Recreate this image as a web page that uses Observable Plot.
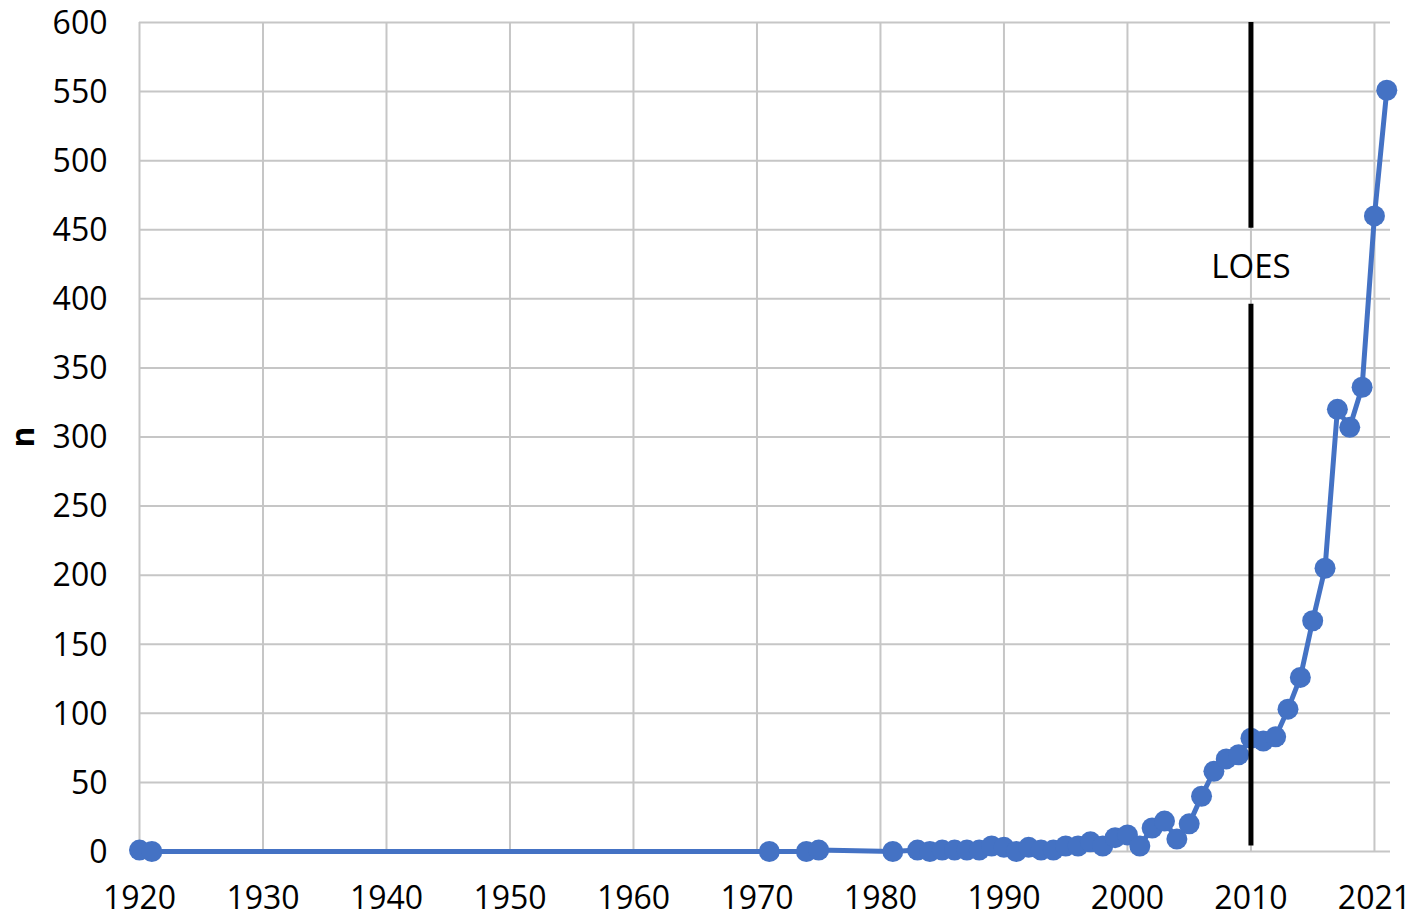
<!DOCTYPE html>
<html>
<head>
<meta charset="utf-8">
<script src="https://cdn.jsdelivr.net/npm/d3@7"></script>
<script src="https://cdn.jsdelivr.net/npm/@observablehq/plot@0.6"></script>
<style>
  html, body { margin: 0; padding: 0; background: #fff; }
  #chart { width: 1418px; height: 919px; }
</style>
</head>
<body>
<div id="chart"></div>
<script>
const years = [1920, 1921, 1971, 1974, 1975, 1981, 1983, 1984, 1985, 1986, 1987, 1988, 1989, 1990,
  1991, 1992, 1993, 1994, 1995, 1996, 1997, 1998, 1999, 2000, 2001, 2002, 2003, 2004, 2005,
  2006, 2007, 2008, 2009, 2010, 2011, 2012, 2013, 2014, 2015, 2016, 2017, 2018, 2019, 2020, 2021];
const counts = [1, 0, 0, 0, 1, 0, 1, 0, 1, 1, 1, 1, 4, 3,
  0, 3, 1, 1, 4, 4, 7, 4, 10, 12, 4, 17, 22, 9, 20,
  40, 58, 67, 70, 82, 80, 83, 103, 126, 167, 205, 320, 307, 336, 460, 551];

const xTicks = [1920, 1930, 1940, 1950, 1960, 1970, 1980, 1990, 2000, 2010, 2020];
const xTickLabels = ["1920", "1930", "1940", "1950", "1960", "1970", "1980", "1990", "2000", "2010", "2021"];
const yTicks = [0, 50, 100, 150, 200, 250, 300, 350, 400, 450, 500, 550, 600];

const markerYear = 2010;
const markerLabel = "LOES";
const markerSegStart = [4, 451];
const markerSegEnd = [396, 600];
const markerLabelValue = 423;
const yLabel = "n";

const data = years.map((y, i) => ({year: y, n: counts[i]}));
const segments = markerSegStart.map((s, i) => ({y1: s, y2: markerSegEnd[i]}));
const labelMap = new Map(xTicks.map((t, i) => [t, xTickLabels[i]]));

const grid = "#c6c6c6";
const blue = "#4472C4";
const font = "'Open Sans', sans-serif";
const fs = 32;

const chart = Plot.plot({
  width: 1418,
  height: 919,
  marginLeft: 139,
  marginRight: 28,
  marginTop: 22,
  marginBottom: 68,
  style: {fontFamily: font, fontSize: fs + "px", color: "#000", background: "#fff"},
  x: {domain: [1920, 2021.3]},
  y: {domain: [0, 600]},
  marks: [
    Plot.gridX(xTicks, {stroke: grid, strokeOpacity: 1, strokeWidth: 2}),
    Plot.gridY(yTicks, {stroke: grid, strokeOpacity: 1, strokeWidth: 2}),
    Plot.line(data, {x: "year", y: "n", stroke: blue, strokeWidth: 5}),
    Plot.dot(data, {x: "year", y: "n", r: 10.5, fill: blue, stroke: null}),
    Plot.ruleX(segments, {x: () => markerYear, y1: "y1", y2: "y2", stroke: "#000", strokeWidth: 5}),
    Plot.text([markerLabel], {x: markerYear, y: markerLabelValue, text: d => d, fontSize: 33, fill: "#000", fontFamily: font}),
    Plot.axisX(xTicks, {tickSize: 0, tickPadding: 35, tickFormat: d => labelMap.get(d), fontSize: fs, fill: "#000", label: null}),
    Plot.axisY(yTicks, {tickSize: 0, tickPadding: 32, dy: 1, fontSize: fs, fill: "#000", label: null}),
    Plot.text([yLabel], {frameAnchor: "left", dx: -116, rotate: -90, textAnchor: "middle", lineAnchor: "middle", fontWeight: "bold", fontSize: fs, fill: "#000", text: d => d})
  ]
});
document.getElementById("chart").appendChild(chart);
</script>
</body>
</html>
